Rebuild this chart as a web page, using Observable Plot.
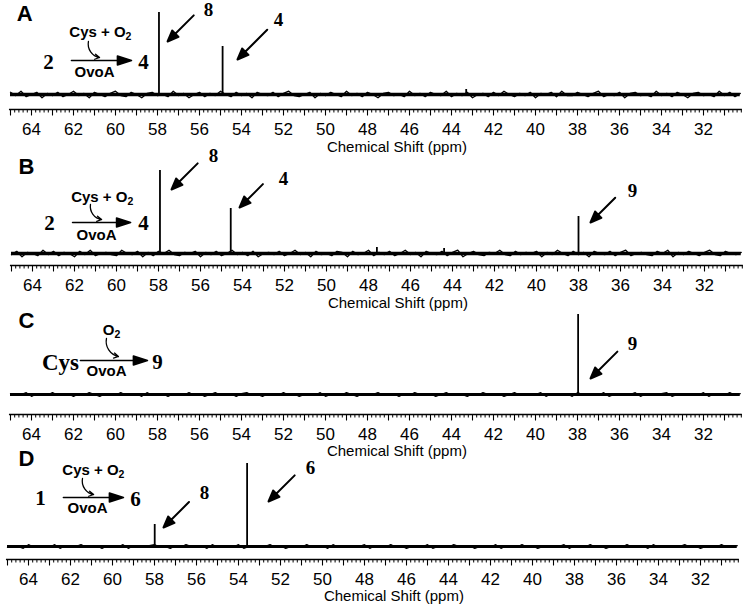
<!DOCTYPE html>
<html>
<head>
<meta charset="utf-8">
<script src="https://cdn.jsdelivr.net/npm/d3@7"></script>
<script src="https://cdn.jsdelivr.net/npm/@observablehq/plot@0.6"></script>
<style>
  body { margin: 0; background: #fff; }
  #chart svg { display: block; }
</style>
</head>
<body>
<div id="chart"></div>
<script>
// ---------- data ----------
const tickLabels = [64, 62, 60, 58, 56, 54, 52, 50, 48, 46, 44, 42, 40, 38, 36, 34, 32];
const axisTitle = "Chemical Shift (ppm)";
const panelLetters = ["A", "B", "C", "D"];

// peak positions (ppm) and heights (intensity, arbitrary units)
const peaksA = [57.93, 54.9, 43.3];
const heightsA = [82, 48, 5];
const peaksB = [57.93, 54.56, 38.0, 47.6, 44.4];
const heightsB = [83, 45, 37, 6, 5];
const peaksC = [37.97];
const heightsC = [80];
const peaksD = [57.99, 53.59];
const heightsD = [22, 83];

// peak labels (compound numbers)
const labelsA = ["8", "4"];
const labelsB = ["8", "4", "9"];
const labelsC = ["9"];
const labelsD = ["8", "6"];

// baseline noise, sampled every 0.25 ppm from 65.0 ppm downward
const noiseA = [2,-1,3,-2,0,2,-3,1,-1,2, -2,0,3,-1,1,-3,2,0,-2,1, 3,-1,-2,2,0,-3,1,2,-1,0, -2,3,-1,1,-3,0,2,-2,1,-1, 3,0,-2,2,-1,1,-3,2,0,-1, 2,-2,1,3,-1,-2,0,2,-3,1, -1,2,0,-2,3,-1,1,-2,2,0, -3,1,2,-1,0,-2,3,-1,1,-2, 2,0,-1,3,-2,1,-1,2,-3,0, 1,-2,2,-1,3,0,-2,1,-1,2, -3,1,0,2,-2,3,-1,-1,2,0, -2,1,3,-2,0,-1,2,-3,1,2, -1,0,-2,3,-1,1,-2,2,0,-3, 1,2,-1,0,-2,3,-1,2,-2,1];
const noiseB = [-1,2,-3,1,0,-2,3,-1,2,-2, 1,0,-3,2,-1,3,-2,0,1,-1, -2,3,0,-1,2,-3,1,-2,2,0, 3,-1,-2,1,0,2,-3,1,-1,2, -2,0,3,-1,1,-2,2,-3,0,1, -1,2,-2,0,3,-1,1,-3,2,-1, 0,-2,2,1,-3,2,-1,0,3,-2, 1,-1,2,-2,0,3,-1,1,-3,2, 0,-1,2,-2,1,3,-3,0,2,-1, -2,1,0,3,-1,-2,2,-1,1,0, 2,-3,1,-1,3,0,-2,2,-1,1, -3,2,0,-1,2,-2,1,3,-2,0, 1,-1,-2,2,0,3,-3,1,-1,2, 0,-2,1,3,-1,-2,2,0,-1,1];
const noiseC = [1,-1,0,2,-2,1,0,-1,2,-1, 0,1,-2,1,-1,2,0,-2,1,0, -1,2,-1,0,1,-2,2,-1,0,1, -2,1,0,-1,2,-1,1,-2,0,2, -1,0,1,-2,1,2,-1,0,-2,1, 0,-1,2,-1,1,-2,0,1,-1,2, -2,0,1,-1,2,0,-2,1,-1,0, 2,-1,0,1,-2,1,-1,2,0,-1, 1,-2,0,2,-1,1,0,-2,1,-1, 2,0,-1,1,-2,0,2,-1,1,-1, 0,2,-2,1,0,-1,1,-2,2,0, -1,1,-1,2,-2,0,1,-1,0,2, -2,1,0,-1,1,2,-2,0,1,-1, 0,-1,2,-2,1,0,-1,2,-1,1];
const noiseD = [-1,1,0,-2,2,-1,1,0,-1,2, -2,1,-1,0,2,-1,0,1,-2,1, 0,-1,2,-2,1,0,-1,1,2,-1, 0,-2,1,-1,2,0,-1,1,-2,2, -1,0,1,-1,2,-2,0,1,-1,0, 2,-1,1,-2,0,1,-1,2,-1,0, 1,-2,2,-1,0,1,-1,0,2,-2, 1,0,-1,2,-1,1,-2,0,1,-1, 2,-2,0,1,-1,2,0,-1,1,-2, 0,1,-1,2,-2,1,0,-1,2,-1, 1,-2,0,1,-1,0,2,-2,1,0, -1,2,-1,1,-2,0,1,-1,2,-1, 0,1,-2,2,-1,0,1,-1,0,2, -1,1,-2,0,1,-1,2,-1,0,1];

// reaction schemes (reagent text + subscript)
const schemeA = {sub: "2", reagent: "Cys + O", reagentSub: "2", enzyme: "OvoA", prod: "4"};
const schemeB = {sub: "2", reagent: "Cys + O", reagentSub: "2", enzyme: "OvoA", prod: "4"};
const schemeC = {sub: "Cys", reagent: "O", reagentSub: "2", enzyme: "OvoA", prod: "9"};
const schemeD = {sub: "1", reagent: "Cys + O", reagentSub: "2", enzyme: "OvoA", prod: "6"};

// ---------- layout (annotation placement in data units: ppm, intensity) ----------
const panels = [
  {
    letter: panelLetters[0], peaks: peaksA, heights: heightsA, noise: noiseA, labels: labelsA, scheme: schemeA,
    height: 150, mb: 41, x64: 31, lo: -15, band: 3.4, noiseScale: 1.1, csDy: 38,
    letterPos: [64.33, 81],
    labelPos: [[55.57, 85], [52.24, 75]],
    arrows: [[57.52, 53, 37], [54.19, 35, 42]],
    subPos: [63.19, 32], reagentPos: [59.52, 62], enzymePos: [61.0, 22], prodPos: [58.67, 32],
    mainArrow: [59.24, 34, 60], curve: [61.29, 53, 60.76, 37]
  },
  {
    letter: panelLetters[1], peaks: peaksB, heights: heightsB, noise: noiseB, labels: labelsB, scheme: schemeB,
    height: 155, mb: 40, x64: 32, lo: -12, band: 3.4, noiseScale: 1.1, csDy: 38,
    letterPos: [64.29, 87],
    labelPos: [[55.38, 98], [52.05, 75], [35.43, 63]],
    arrows: [[57.38, 64, 37], [54.14, 46, 33], [37.43, 31, 35]],
    subPos: [63.19, 30], reagentPos: [59.48, 56], enzymePos: [60.95, 18], prodPos: [58.71, 30],
    mainArrow: [59.33, 31, 58], curve: [61.24, 49, 60.71, 34]
  },
  {
    letter: panelLetters[2], peaks: peaksC, heights: heightsC, noise: noiseC, labels: labelsC, scheme: schemeC,
    height: 150, mb: 41, x64: 31, lo: -20, band: 2.8, noiseScale: 0.9, csDy: 37,
    letterPos: [64.24, 74],
    labelPos: [[35.38, 51]],
    arrows: [[37.38, 16, 38]],
    subPos: [62.62, 32], reagentPos: [60.05, 64], enzymePos: [60.43, 23], prodPos: [58.0, 32],
    mainArrow: [58.48, 34, 67], curve: [60.43, 56, 59.86, 38], bigSub: true
  },
  {
    letter: panelLetters[3], peaks: peaksD, heights: heightsD, noise: noiseD, labels: labelsD, scheme: schemeD,
    height: 149, mb: 45, x64: 28, lo: -13, band: 2.8, noiseScale: 0.9, csDy: 37,
    letterPos: [64.1, 88],
    labelPos: [[55.62, 54], [50.57, 79]],
    arrows: [[57.57, 19, 36], [52.57, 45, 37]],
    subPos: [63.43, 48], reagentPos: [59.71, 76], enzymePos: [61.19, 38], prodPos: [58.90, 47],
    mainArrow: [59.48, 49, 60], curve: [61.43, 68, 60.90, 52]
  }
];

const PX_PER_PPM = 21;
const W = 746;
const minorTicks = d3.range(0, 175).map(i => +(65 - i * 0.2).toFixed(1));
const majorTicks = d3.range(65, 30, -1);

const sans = "'Liberation Sans', Arial, Helvetica, sans-serif";
const serif = "'Liberation Serif', 'Times New Roman', serif";

function arrowShape(hl, hw) {
  return {
    draw(context, l) {
      context.moveTo(0, 0);
      context.lineTo(0, -l + hl * 0.8);
      context.moveTo(0, -l);
      context.lineTo(-hw, -l + hl);
      context.lineTo(hw, -l + hl);
      context.closePath();
    }
  };
}
const diagHead = arrowShape(11, 4.5);
const schemeHead = arrowShape(14, 4.5);

const container = document.getElementById("chart");

for (const p of panels) {
  const hi = p.height - p.mb + p.lo;
  const xLeft = 64 + p.x64 / PX_PER_PPM;
  const xRight = 64 - (W - p.x64) / PX_PER_PPM;
  const spectrumPeaks = p.peaks.map((x, i) => ({x, h: p.heights[i]}));
  const noisePts = p.noise.map((v, i) => ({x: 65 - i * 0.25, y: v * p.noiseScale}));
  const labelData = p.labels.map((t, i) => ({t, x: p.labelPos[i][0], y: p.labelPos[i][1]}));
  const arrowData = p.arrows.map(a => ({x: a[0], y: a[1], len: a[2]}));
  const s = p.scheme;

  const chart = Plot.plot({
    width: W,
    height: p.height,
    marginTop: 0,
    marginBottom: p.mb,
    marginLeft: 0,
    marginRight: 0,
    style: {fontFamily: sans, color: "black", overflow: "visible"},
    x: {domain: [xLeft, xRight], axis: null},
    y: {domain: [p.lo, hi], axis: null},
    length: {type: "identity"},
    marks: [
      // baseline band + noise
      Plot.ruleY([0], {x1: 65.0, x2: 30.25, strokeWidth: p.band, stroke: "black"}),
      Plot.line(noisePts, {x: "x", y: "y", strokeWidth: 1.3, stroke: "black"}),
      // peaks
      Plot.ruleX(spectrumPeaks, {x: "x", y1: 0, y2: "h", strokeWidth: 1.8, stroke: "black"}),
      // axis
      Plot.ruleY([p.lo], {x1: 65.05, x2: 30.15, strokeWidth: 1.4, stroke: "black"}),
      Plot.ruleX(minorTicks, {x: d => d, y1: p.lo, y2: p.lo - 3.5, strokeWidth: 1, stroke: "black"}),
      Plot.ruleX(majorTicks, {x: d => d, y1: p.lo, y2: p.lo - 6.5, strokeWidth: 1.1, stroke: "black"}),
      Plot.text(tickLabels, {x: d => d, y: p.lo - 20, text: d => String(d), fontSize: 17, fill: "black"}),
      Plot.text([axisTitle], {x: 46.6, y: p.lo - p.csDy, text: d => d, fontSize: 15, fill: "black"}),
      // panel letter
      Plot.text([p.letter], {x: p.letterPos[0], y: p.letterPos[1], text: d => d, fontSize: 22, fontWeight: "bold", fill: "black"}),
      // peak labels and arrows
      Plot.text(labelData, {x: "x", y: "y", text: "t", fontSize: 19, fontWeight: "bold", fontFamily: serif, fill: "black"}),
      Plot.vector(arrowData, {x: "x", y: "y", length: "len", rotate: 225, anchor: "end", shape: diagHead, stroke: "black", fill: "black", strokeWidth: 2}),
      // reaction scheme
      Plot.text([s.sub], {x: p.subPos[0], y: p.subPos[1], text: d => d, fontSize: p.bigSub ? 23 : 21, fontWeight: "bold", fontFamily: serif, fill: "black"}),
      Plot.text([s.prod], {x: p.prodPos[0], y: p.prodPos[1], text: d => d, fontSize: 21, fontWeight: "bold", fontFamily: serif, fill: "black"}),
      Plot.text([s.reagent], {x: p.reagentPos[0], y: p.reagentPos[1], text: d => d, textAnchor: "end", fontSize: 15, fontWeight: "bold", fill: "black"}),
      Plot.text([s.reagentSub], {x: p.reagentPos[0], y: p.reagentPos[1], text: d => d, textAnchor: "start", dy: 4, fontSize: 10.5, fontWeight: "bold", fill: "black"}),
      Plot.text([s.enzyme], {x: p.enzymePos[0], y: p.enzymePos[1], text: d => d, fontSize: 15, fontWeight: "bold", fill: "black"}),
      Plot.vector([p.mainArrow], {x: d => d[0], y: d => d[1], length: d => d[2], rotate: 90, anchor: "end", shape: schemeHead, stroke: "black", fill: "black", strokeWidth: 1.6}),
      Plot.arrow([p.curve], {x1: d => d[0], y1: d => d[1], x2: d => d[2], y2: d => d[3], bend: -45, headLength: 6, strokeWidth: 1.3, stroke: "black"})
    ]
  });
  container.appendChild(chart);
}
</script>
</body>
</html>
